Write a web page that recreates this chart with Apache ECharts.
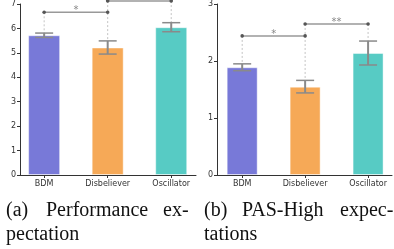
<!DOCTYPE html>
<html>
<head>
<meta charset="utf-8">
<script src="https://cdn.jsdelivr.net/npm/echarts@6/dist/echarts.min.js"></script>
<style>
  html, body { margin: 0; padding: 0; background: #fff; }
  #main { width: 394px; height: 249px; }
</style>
</head>
<body>
<div id="main"></div>
<script>
// data
const cats = ["BDM", "Disbeliever", "Oscillator"];
const colors = ["#7879d8", "#f6a957", "#57cbc4"];
const perfMean = [5.72, 5.22, 6.05];
const perfErr = [0.09, 0.27, 0.185];
const perfTicks = [0, 1, 2, 3, 4, 5, 6, 7];
const perfSig = [[0, 1, 6.66, "*"], [1, 2, 7.12, "*"]];
const pasMean = [1.89, 1.55, 2.14];
const pasErr = [0.06, 0.11, 0.21];
const pasTicks = [0, 1, 2, 3];
const pasSig = [[0, 1, 2.44, "*"], [1, 2, 2.65, "**"]];

let myChart = echarts.init(document.getElementById("main"), null, { renderer: "canvas" });

function yAxisOf(gi, ticks) {
  return {
    type: "value",
    gridIndex: gi,
    min: ticks[0],
    max: ticks[ticks.length - 1],
    interval: 1,
    splitLine: { show: false },
    axisLine: { show: true, onZero: false, lineStyle: { color: "#333", width: 1 } },
    axisTick: { show: true, length: 3, lineStyle: { color: "#333" } },
    axisLabel: { color: "#333", fontSize: 8, margin: 4, fontFamily: "DejaVu Sans" }
  };
}

function xAxisOf(gi, min, max) {
  return {
    type: "value",
    gridIndex: gi,
    min: min,
    max: max,
    splitLine: { show: false },
    axisLine: { show: true, onZero: false, lineStyle: { color: "#333", width: 1 } },
    axisTick: { show: true, length: 3, customValues: [0, 1, 2], lineStyle: { color: "#333" } },
    axisLabel: {
      customValues: [0, 1, 2],
      formatter: function (v) { return cats[Math.round(v)]; },
      color: "#333", fontSize: 8, margin: 5, fontFamily: "DejaVu Sans"
    }
  };
}

function seriesOf(gi, mean, err, sig, barW) {
  // highest bracket each bar reaches, for the dotted guide lines
  let guideTop = mean.map(() => null);
  sig.forEach(s => {
    [s[0], s[1]].forEach(i => {
      if (guideTop[i] === null || s[2] > guideTop[i]) guideTop[i] = s[2];
    });
  });
  return [
    {
      type: "bar",
      xAxisIndex: gi,
      yAxisIndex: gi,
      barWidth: barW,
      data: mean.map((v, i) => ({
        value: [i, v],
        itemStyle: { color: colors[i], borderColor: "rgba(255,255,255,0.45)", borderWidth: 1 }
      })),
      z: 2
    },
    {
      type: "custom",
      xAxisIndex: gi,
      yAxisIndex: gi,
      clip: false,
      z: 3,
      data: mean.map((v, i) => [i, v - err[i], v + err[i], guideTop[i] === null ? v + err[i] : guideTop[i]]),
      renderItem: function (params, api) {
        const x = api.value(0);
        const lo = api.coord([x, api.value(1)]);
        const hi = api.coord([x, api.value(2)]);
        const top = api.coord([x, api.value(3)]);
        const cap = 9;
        return {
          type: "group",
          children: [
            { type: "line", shape: { x1: top[0], y1: top[1], x2: hi[0], y2: hi[1] },
              style: { stroke: "#c4c4c4", lineWidth: 1, lineDash: [2, 2] } },
            { type: "line", shape: { x1: lo[0], y1: lo[1], x2: hi[0], y2: hi[1] },
              style: { stroke: "#8a8a8a", lineWidth: 2 } },
            { type: "line", shape: { x1: hi[0] - cap, y1: hi[1], x2: hi[0] + cap, y2: hi[1] },
              style: { stroke: "#8a8a8a", lineWidth: 1.5 } },
            { type: "line", shape: { x1: lo[0] - cap, y1: lo[1], x2: lo[0] + cap, y2: lo[1] },
              style: { stroke: "#8a8a8a", lineWidth: 1.5 } }
          ]
        };
      }
    },
    {
      type: "custom",
      xAxisIndex: gi,
      yAxisIndex: gi,
      clip: false,
      z: 4,
      data: sig.map(s => [s[0], s[1], s[2]]),
      renderItem: function (params, api) {
        const a = api.coord([api.value(0), api.value(2)]);
        const b = api.coord([api.value(1), api.value(2)]);
        return {
          type: "group",
          children: [
            { type: "line", shape: { x1: a[0], y1: a[1], x2: b[0], y2: b[1] },
              style: { stroke: "#999", lineWidth: 1.5 } },
            { type: "circle", shape: { cx: a[0], cy: a[1], r: 1.8 }, style: { fill: "#555" } },
            { type: "circle", shape: { cx: b[0], cy: b[1], r: 1.8 }, style: { fill: "#555" } },
            { type: "text", x: (a[0] + b[0]) / 2, y: a[1] - 2,
              style: { text: sig[params.dataIndex][3], fill: "#888", fontSize: 10,
                       fontFamily: "DejaVu Sans", align: "center", verticalAlign: "middle" } }
          ]
        };
      }
    }
  ];
}

const capFont = "Liberation Serif";
const capSize = 20;
function word(text, x, y) {
  return { type: "text", left: x, top: y,
           style: { text: text, fill: "#111", fontSize: capSize, fontFamily: capFont } };
}

myChart.setOption({
  animation: false,
  backgroundColor: "#fff",
  grid: [
    { left: 20, top: 3, width: 176, height: 172 },
    { left: 217, top: 3, width: 175, height: 172 }
  ],
  xAxis: [xAxisOf(0, -0.38, 2.39), xAxisOf(1, -0.4, 2.38)],
  yAxis: [yAxisOf(0, perfTicks), yAxisOf(1, pasTicks)],
  series: [].concat(
    seriesOf(0, perfMean, perfErr, perfSig, 32),
    seriesOf(1, pasMean, pasErr, pasSig, 31)
  ),
  graphic: [
    word("(a)", 6, 201),
    word("Performance", 46, 201),
    word("ex-", 163, 201),
    word("pectation", 6, 225),
    word("(b)", 204, 201),
    word("PAS-High", 242, 201),
    word("expec-", 340, 201),
    word("tations", 204, 225)
  ]
});
</script>
</body>
</html>
